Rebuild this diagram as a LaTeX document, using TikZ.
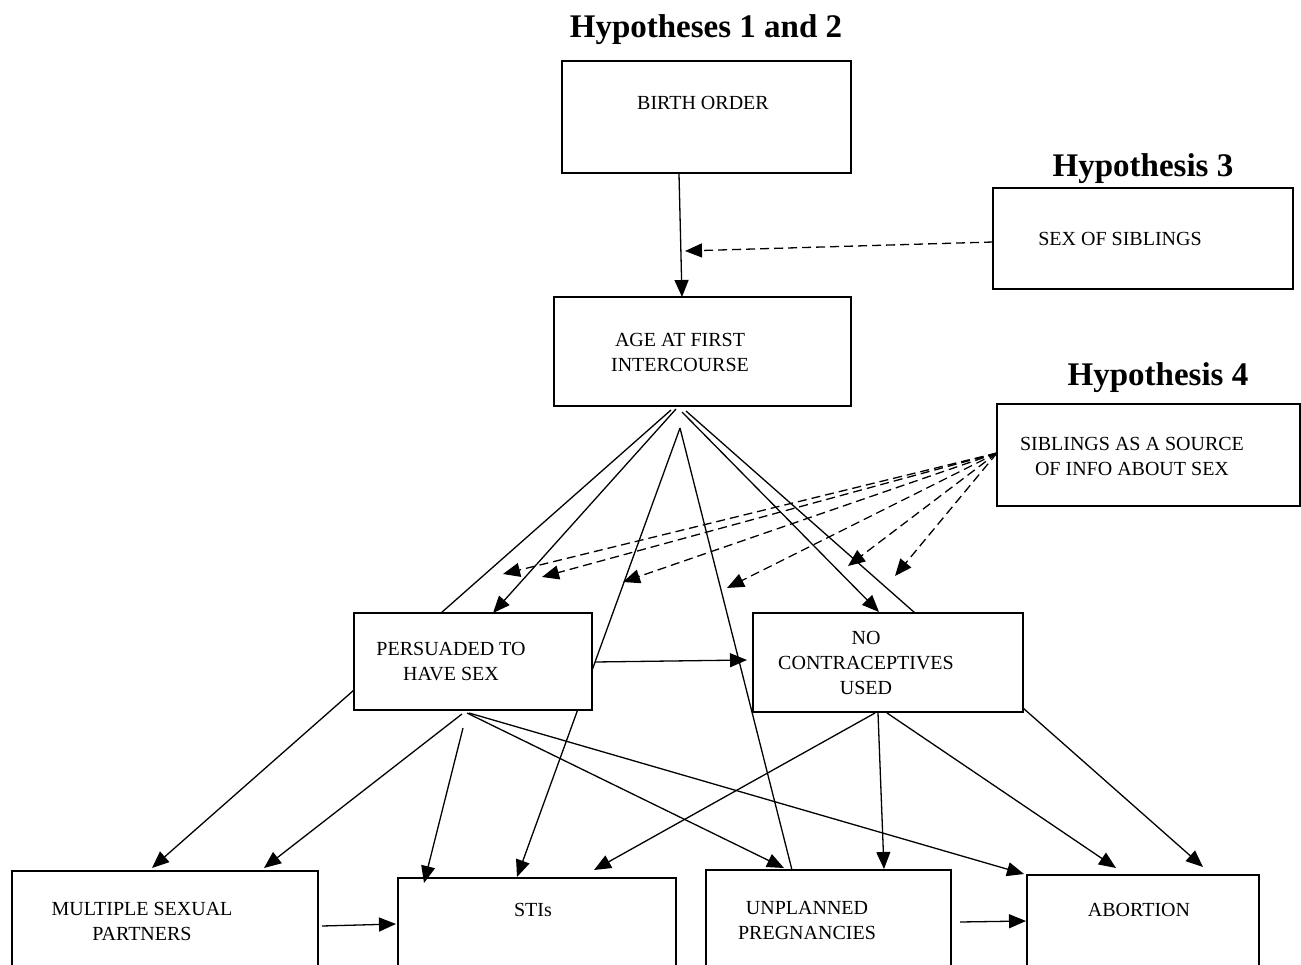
\documentclass[tikz,border=0pt]{standalone}
\usepackage{fontspec}
\setmainfont{Liberation Serif}
\usetikzlibrary{arrows.meta}
\begin{document}
\begin{tikzpicture}[x=1pt,y=-1pt,
  box/.style={draw, line width=2.6pt, fill=white, inner sep=0pt, outer sep=0pt, rectangle},
  lbl/.style={font=\fontsize{20}{25}\selectfont, align=center, inner sep=0pt},
  ttl/.style={font=\fontsize{33}{36}\selectfont\bfseries, inner sep=0pt, anchor=base},
  conn/.style={line width=1.3pt},
  arr/.style={conn, -{Triangle[length=17pt,width=14pt]}},
  dsh/.style={arr, dash pattern=on 9pt off 5pt}]
\useasboundingbox (0,0) rectangle (1301,965);
\clip (0,0) rectangle (1301,965);

% coordinates
\coordinate (bo1) at (679,174); \coordinate (ag1) at (682,297);
\coordinate (ss1) at (993,242); \coordinate (ss2) at (685,251);
\coordinate (a1) at (671,410); \coordinate (p1) at (441,613);
\coordinate (a2) at (676,409); \coordinate (p2) at (493,613);
\coordinate (a3) at (680,428); \coordinate (s2) at (517,877);
\coordinate (u1) at (792,870);
\coordinate (a4) at (682,412); \coordinate (n1) at (879,612);
\coordinate (a5) at (686,411); \coordinate (n2) at (915,613);
\coordinate (sib) at (997,453);
\coordinate (d1) at (503,574); \coordinate (d2) at (542,577);
\coordinate (d3) at (623,582); \coordinate (d4) at (727,588);
\coordinate (d5) at (848,566); \coordinate (d6) at (895,576);
\coordinate (p3) at (354,690); \coordinate (m1) at (152,868);
\coordinate (p4) at (462,714); \coordinate (m2) at (264,868);
\coordinate (p5) at (463,728); \coordinate (s1) at (424,883);
\coordinate (p6) at (467,713); \coordinate (u2) at (784,868);
\coordinate (p7) at (469,713); \coordinate (ab1) at (1024,874);
\coordinate (p8) at (595,662); \coordinate (n3) at (747,660);
\coordinate (n4) at (875,713); \coordinate (s3) at (594,870);
\coordinate (n5) at (878,713); \coordinate (u3) at (884,869);
\coordinate (n6) at (887,713); \coordinate (ab2) at (1116,868);
\coordinate (n7) at (1023,708); \coordinate (ab3) at (1203,867);
\coordinate (m3) at (322,926); \coordinate (s4) at (396,924);
\coordinate (u4) at (960,922); \coordinate (ab4) at (1026,921);

% line hidden behind the PERSUADED box
\draw[arr] (a3) -- (s2);

% boxes
\node[box, minimum width=289pt, minimum height=112pt] (birth) at (706.5,117) {};
\node[box, minimum width=300pt, minimum height=101pt] (sex) at (1143,238.5) {};
\node[box, minimum width=297pt, minimum height=109pt] (age) at (702.5,351.5) {};
\node[box, minimum width=303pt, minimum height=102pt] (sib box) at (1148.5,455) {};
\node[box, minimum width=238pt, minimum height=97pt] (pers) at (473,661.5) {};
\node[box, minimum width=270pt, minimum height=99pt] (noc) at (888,662.5) {};
\node[box, minimum width=306pt, minimum height=129pt] (mult) at (165,935.5) {};
\node[box, minimum width=278pt, minimum height=122pt] (sti) at (537,939) {};
\node[box, minimum width=245pt, minimum height=130pt] (unpl) at (828.5,935) {};
\node[box, minimum width=232pt, minimum height=125pt] (abort) at (1143,937.5) {};

% labels
\node[lbl] (tbirth) at (703,103) {BIRTH ORDER};
\node[lbl] (tsex) at (1120,239) {SEX OF SIBLINGS};
\node[lbl] (tage) at (680,352) {AGE AT FIRST\\INTERCOURSE};
\node[lbl] (tsib) at (1132,456) {SIBLINGS AS A SOURCE\\OF INFO ABOUT SEX};
\node[lbl] (tpers) at (451,662) {PERSUADED TO\\HAVE SEX};
\node[lbl] (tnoc) at (866,663) {NO\\CONTRACEPTIVES\\USED};
\node[lbl] (tmult) at (142,921) {MULTIPLE SEXUAL\\PARTNERS};
\node[lbl] (tsti) at (533,910) {STIs};
\node[lbl] (tunpl) at (807,920) {UNPLANNED\\PREGNANCIES};
\node[lbl] (tabort) at (1139,910) {ABORTION};

% titles
\node[ttl] (h12) at (706,38) {Hypotheses 1 and 2};
\node[ttl] (h3) at (1143,177) {Hypothesis 3};
\node[ttl] (h4) at (1158,386) {Hypothesis 4};

% connectors
\draw[arr] (bo1) -- (ag1);
\draw[dsh] (ss1) -- (ss2);
\draw[conn] (a1) -- (p1);
\draw[arr] (a2) -- (p2);
\draw[conn] (a3) -- (u1);
\draw[arr] (a4) -- (n1);
\draw[conn] (a5) -- (n2);
\foreach \d in {d1,d2,d3,d4,d5,d6} \draw[dsh] (sib) -- (\d);
\draw[arr] (p3) -- (m1);
\draw[arr] (p4) -- (m2);
\draw[arr] (p5) -- (s1);
\draw[arr] (p6) -- (u2);
\draw[arr] (p7) -- (ab1);
\draw[arr] (p8) -- (n3);
\draw[arr] (n4) -- (s3);
\draw[arr] (n5) -- (u3);
\draw[arr] (n6) -- (ab2);
\draw[arr] (n7) -- (ab3);
\draw[arr] (m3) -- (s4);
\draw[arr] (u4) -- (ab4);
\end{tikzpicture}
\end{document}
